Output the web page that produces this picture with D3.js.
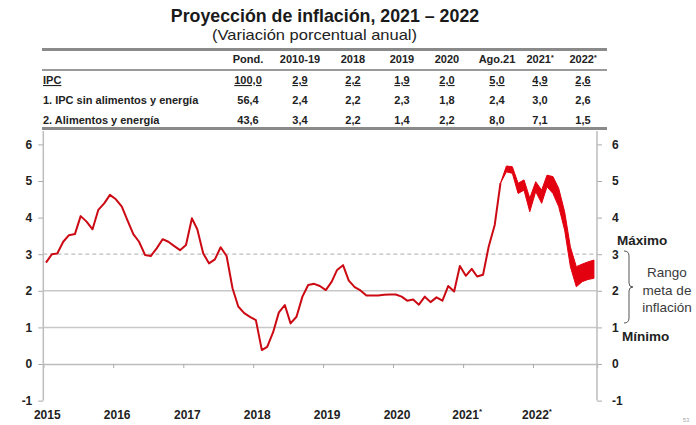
<!DOCTYPE html>
<html>
<head>
<meta charset="utf-8">
<script src="https://d3js.org/d3.v7.min.js"></script>
<style>
  body { margin: 0; background: #fff; }
  svg { display: block; }
</style>
</head>
<body>
<script>
var width = 696, height = 425
var NARROW = "'Liberation Sans Narrow', 'Arial Narrow', 'Liberation Sans', Arial, sans-serif"
var SANS = "'Liberation Sans', Arial, sans-serif"

// table
var tableCols = ["Pond.", "2010-19", "2018", "2019", "2020", "Ago.21", "2021*", "2022*"]
var rowLabels = ["IPC", "1. IPC sin alimentos y energía", "2. Alimentos y energía"]
var ipcRow = ["100,0", "2,9", "2,2", "1,9", "2,0", "5,0", "4,9", "2,6"]
var coreRow = ["56,4", "2,4", "2,2", "2,3", "1,8", "2,4", "3,0", "2,6"]
var foodRow = ["43,6", "3,4", "2,2", "1,4", "2,2", "8,0", "7,1", "1,5"]

// monthly inflation, observed (from early 2015 up to Aug 2021)
var inflation = [2.77, 3.00, 3.02, 3.34, 3.52, 3.55, 4.04, 3.89, 3.68, 4.21,
  4.39, 4.62, 4.50, 4.30, 3.93, 3.55, 3.34, 2.98, 2.95, 3.16,
  3.41, 3.34, 3.22, 3.11, 3.25, 3.98, 3.68, 3.02, 2.75, 2.86,
  3.19, 2.95, 2.07, 1.57, 1.39, 1.29, 1.20, 0.38, 0.47, 0.87,
  1.41, 1.61, 1.11, 1.29, 1.84, 2.16, 2.19, 2.13, 2.02, 2.25,
  2.57, 2.70, 2.28, 2.10, 2.01, 1.87, 1.87, 1.87, 1.89, 1.90,
  1.90, 1.84, 1.73, 1.76, 1.62, 1.84, 1.69, 1.82, 1.73, 2.13,
  1.98, 2.68, 2.41, 2.60, 2.39, 2.44, 3.22, 3.80, 4.94]
// projection band, starts at the last observed month
var bandLow = [4.94, 5.25, 5.21, 4.66, 4.75, 4.16, 4.71, 4.39, 4.84, 4.66, 4.30, 3.66, 2.66, 2.11, 2.25, 2.31, 2.34]
var bandHigh = [4.94, 5.41, 5.39, 4.94, 5.03, 4.53, 4.98, 4.75, 5.16, 5.12, 4.80, 4.16, 3.20, 2.66, 2.73, 2.79, 2.84]

var years = [2015, 2016, 2017, 2018, 2019, 2020, 2021, 2022]
var projYears = [2021, 2022]
var yTicks = [-1, 0, 1, 2, 3, 4, 5, 6]

var svg = d3.select('body').append('svg').attr('width', width).attr('height', height)

// ---- title
svg.append('text').attr('x', 325).attr('y', 22).attr('text-anchor', 'middle')
  .attr('font-family', NARROW).attr('font-weight', 'bold').attr('font-size', 17.8).attr('fill', '#1a1a1a')
  .text('Proyección de inflación, 2021 – 2022')
svg.append('text').attr('x', 212).attr('y', 40)
  .attr('font-family', SANS).attr('font-size', 14.5).attr('fill', '#222')
  .attr('textLength', 205).attr('lengthAdjust', 'spacingAndGlyphs')
  .text('(Variación porcentual anual)')

// ---- table
var colX = [248, 300, 353, 402, 447, 497, 540, 583]
var tbl = svg.append('g').attr('font-family', NARROW).attr('font-weight', 'bold').attr('font-size', 11).attr('fill', '#222')
tbl.append('rect').attr('x', 42).attr('y', 48).attr('width', 565).attr('height', 3).attr('fill', '#8a8a8a')
tbl.append('rect').attr('x', 42).attr('y', 69).attr('width', 565).attr('height', 2).attr('fill', '#9a9a9a')
tbl.append('rect').attr('x', 42).attr('y', 127).attr('width', 565).attr('height', 3).attr('fill', '#8a8a8a')

var hdr = tbl.selectAll('.hdr').data(tableCols).enter().append('text')
  .attr('x', function(d, i) { return colX[i] }).attr('y', 63).attr('text-anchor', 'middle')
hdr.append('tspan').text(function(d) { return d.replace('*', '') })
hdr.filter(function(d) { return d.indexOf('*') > -1 }).append('tspan')
  .attr('font-size', 7).attr('dy', -3).text('*')

var rows = [ipcRow, coreRow, foodRow]
var rowY = [84, 104, 124]
rowLabels.forEach(function(lab, r) {
  tbl.append('text').attr('x', 43).attr('y', rowY[r])
    .attr('text-decoration', r == 0 ? 'underline' : null).text(lab)
  tbl.selectAll('.r' + r).data(rows[r]).enter().append('text')
    .attr('x', function(d, i) { return colX[i] }).attr('y', rowY[r]).attr('text-anchor', 'middle')
    .attr('text-decoration', r == 0 ? 'underline' : null)
    .text(function(d) { return d })
})

// ---- chart
var x = d3.scaleTime().domain([new Date(2015, 0, 1), new Date(2022, 11, 1)]).range([43.3, 597])
var y = d3.scaleLinear().domain([-1, 6]).range([400.6, 144.4])
var monthDate = function(i) { return new Date(2015, i, 15) }
var bandStart = inflation.length - 1

var chart = svg.append('g')

// grid
chart.selectAll('.grid').data([1, 2]).enter().append('line')
  .attr('x1', x.range()[0]).attr('x2', x.range()[1])
  .attr('y1', function(d) { return y(d) }).attr('y2', function(d) { return y(d) })
  .attr('stroke', '#c8c8c8').attr('stroke-width', 1.5)
chart.append('line').attr('x1', x.range()[0]).attr('x2', x.range()[1])
  .attr('y1', y(3)).attr('y2', y(3))
  .attr('stroke', '#bdbdbd').attr('stroke-width', 1.2).attr('stroke-dasharray', '4,3')

// x axis on zero line
var xAxis = d3.axisBottom(x).tickValues(years.slice(1).map(function(yr) { return new Date(yr, 0, 1) }))
  .tickSize(4).tickFormat('')
var gx = chart.append('g').attr('transform', 'translate(0,' + y(0) + ')').call(xAxis)
gx.select('.domain').attr('stroke', '#bdbdbd').attr('stroke-width', 1.5)
gx.selectAll('.tick line').attr('stroke', '#aaa')

// y axes
var fmt = function(d) { return String(d) }
var gl = chart.append('g').attr('transform', 'translate(' + x.range()[0] + ',0)')
  .call(d3.axisLeft(y).tickValues(yTicks).tickSize(5).tickPadding(6).tickFormat(fmt))
var gr = chart.append('g').attr('transform', 'translate(' + x.range()[1] + ',0)')
  .call(d3.axisRight(y).tickValues(yTicks).tickSize(5).tickPadding(10).tickFormat(fmt))
;[gl, gr].forEach(function(g) {
  g.select('.domain').remove()
  g.selectAll('.tick line').attr('stroke', '#aaa')
  g.selectAll('.tick text').attr('font-family', NARROW).attr('font-weight', 'bold')
    .attr('font-size', 12).attr('fill', '#222')
  g.append('line').attr('y1', 131).attr('y2', y(-1)).attr('stroke', '#bdbdbd').attr('stroke-width', 1.5)
})

// year labels
var yl = chart.selectAll('.yl').data(years).enter().append('text')
  .attr('x', function(d) { return x(new Date(d, 0, 1)) + 4 }).attr('y', 419)
  .attr('text-anchor', 'middle').attr('font-family', NARROW).attr('font-weight', 'bold')
  .attr('font-size', 12).attr('fill', '#222')
yl.append('tspan').text(function(d) { return d })
yl.filter(function(d) { return projYears.indexOf(d) > -1 }).append('tspan')
  .attr('font-size', 8).attr('dy', -5).text('*')

// projection band
var area = d3.area()
  .x(function(d, i) { return x(monthDate(bandStart + i)) })
  .y0(function(d, i) { return y(bandLow[i]) })
  .y1(function(d) { return y(d) })
chart.append('path').datum(bandHigh).attr('d', area).attr('fill', '#e3000f')
  .attr('stroke', '#e3000f').attr('stroke-width', 1).attr('stroke-linejoin', 'round')

// observed line
var line = d3.line().x(function(d, i) { return x(monthDate(i)) }).y(function(d) { return y(d) })
chart.append('path').datum(inflation).attr('d', line).attr('fill', 'none')
  .attr('stroke', '#cc0a14').attr('stroke-width', 2).attr('stroke-linejoin', 'round')

// target range annotation
var ann = svg.append('g').attr('fill', '#222')
ann.append('text').attr('x', 617).attr('y', 245).attr('font-family', SANS).attr('font-weight', 'bold')
  .attr('font-size', 13.5).text('Máximo')
ann.append('text').attr('x', 622).attr('y', 341).attr('font-family', SANS).attr('font-weight', 'bold')
  .attr('font-size', 13.5).text('Mínimo')
ann.append('path')
  .attr('d', 'M624,251 q5,0 5,5 v27 q0,4 4,4 q-4,0 -4,4 v27 q0,5 -5,5')
  .attr('fill', 'none').attr('stroke', '#555').attr('stroke-width', 1)
ann.selectAll('.rg').data(['Rango', 'meta de', 'inflación']).enter().append('text')
  .attr('x', 667).attr('y', function(d, i) { return 277 + i * 17.5 })
  .attr('text-anchor', 'middle').attr('font-family', SANS).attr('font-size', 13.5).attr('fill', '#3a3a3a')
  .text(function(d) { return d })

svg.append('text').attr('x', 686).attr('y', 422).attr('text-anchor', 'middle')
  .attr('font-family', SANS).attr('font-size', 6).attr('fill', '#aaa').text('53')
</script>
</body>
</html>
